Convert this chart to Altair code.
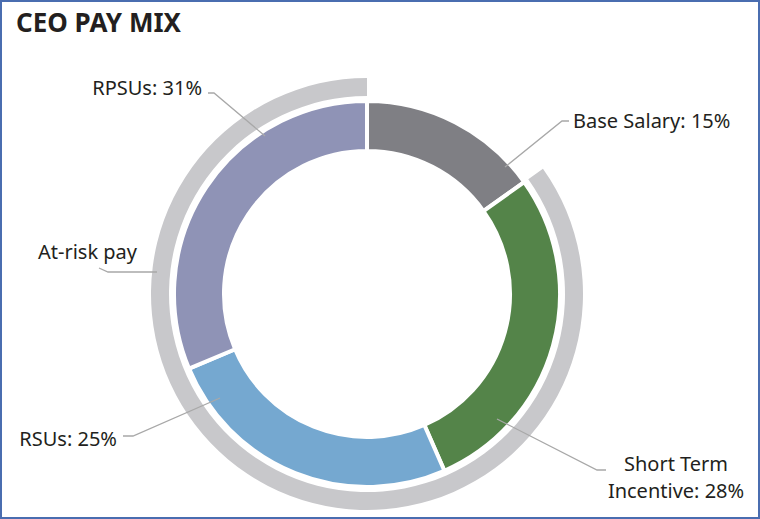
import math
import altair as alt
import pandas as pd

# ---- data ----
categories = ["Base Salary", "Short Term Incentive", "RSUs", "RPSUs"]
values = [15, 28, 25, 31]
colors = ["#7f7f84", "#548449", "#75a8d0", "#8f93b6"]
label_texts = ["Base Salary: 15%", "Short Term", "Incentive: 28%", "RSUs: 25%", "RPSUs: 31%", "At-risk pay"]
title_text = "CEO PAY MIX"

# ---- layout ----
W, H = 760, 519
CX, CY = 367, 294
R_IN, R_OUT = 143, 193
ARC_IN, ARC_OUT = 198, 216
FONT = "Noto Sans"
TEXT_COLOR = "#231f20"

total = sum(values)
at_risk_start = 2 * math.pi * values[0] / total

slices = pd.DataFrame({"cat": categories, "val": values, "ord": range(len(values))})

# label positions (x, y, align)
label_pos = [
    (573, 122, "left"),
    (676, 465, "center"),
    (676, 492, "center"),
    (117, 440, "right"),
    (202, 89, "right"),
    (38, 253, "left"),
]
labels = pd.DataFrame({
    "text": label_texts,
    "x": [p[0] for p in label_pos],
    "y": [p[1] for p in label_pos],
    "align": [p[2] for p in label_pos],
})

leader_pts = {
    "base": [(505, 167), (562, 121), (569, 121)],
    "sti": [(497, 419), (597, 470), (606, 470)],
    "rsu": [(220, 398), (133, 436), (123, 436)],
    "rpsu": [(265, 136), (214, 93), (208, 93)],
    "risk": [(157, 272), (108, 272), (99, 268)],
}
rows = []
for g, pts in leader_pts.items():
    for i, (px, py) in enumerate(pts):
        rows.append({"g": g, "i": i, "x": px, "y": py})
leaders = pd.DataFrame(rows)

xs = alt.Scale(domain=[0, W], nice=False, zero=False)
ys = alt.Scale(domain=[0, H], nice=False, zero=False, reverse=True)

donut = alt.Chart(slices).mark_arc(
    innerRadius=R_IN, outerRadius=R_OUT, stroke="white", strokeWidth=4
).encode(
    theta=alt.Theta("val:Q", stack=True),
    order=alt.Order("ord:Q"),
    color=alt.Color("cat:N", scale=alt.Scale(domain=categories, range=colors), legend=None),
    x=alt.value(CX),
    y=alt.value(CY),
)

risk_arc = alt.Chart(pd.DataFrame({"a": [1]})).mark_arc(
    innerRadius=ARC_IN, outerRadius=ARC_OUT, color="#c8c8cb",
    theta=at_risk_start, theta2=2 * math.pi,
).encode(x=alt.value(CX), y=alt.value(CY))

lines = alt.Chart(leaders).mark_line(color="#a8a8a8", strokeWidth=1.3).encode(
    x=alt.X("x:Q", scale=xs, axis=None),
    y=alt.Y("y:Q", scale=ys, axis=None),
    detail="g:N",
    order="i:Q",
)

text_layers = []
for al in ["left", "center", "right"]:
    sub = labels[labels["align"] == al]
    text_layers.append(
        alt.Chart(sub).mark_text(
            align=al, baseline="middle", font=FONT, fontSize=20, color=TEXT_COLOR
        ).encode(
            x=alt.X("x:Q", scale=xs, axis=None),
            y=alt.Y("y:Q", scale=ys, axis=None),
            text="text:N",
        )
    )

title = alt.Chart(pd.DataFrame({"t": [title_text]})).mark_text(
    align="left", baseline="middle", font=FONT, fontSize=26, fontWeight="bold", color=TEXT_COLOR
).encode(x=alt.value(16), y=alt.value(24), text="t:N")

frame = alt.Chart(pd.DataFrame({"a": [1]})).mark_rect(
    fill=None, fillOpacity=0, stroke="#4a6db0", strokeWidth=2
).encode(x=alt.value(1), x2=alt.value(W - 1), y=alt.value(1), y2=alt.value(H - 1))

chart = alt.layer(risk_arc, donut, lines, *text_layers, title, frame).properties(
    width=W, height=H, padding=0, autosize=alt.AutoSizeParams(type="none")
).configure_view(stroke=None).configure(background="white")

chart.save("out.html", embed_options={"renderer": "svg", "actions": False})
